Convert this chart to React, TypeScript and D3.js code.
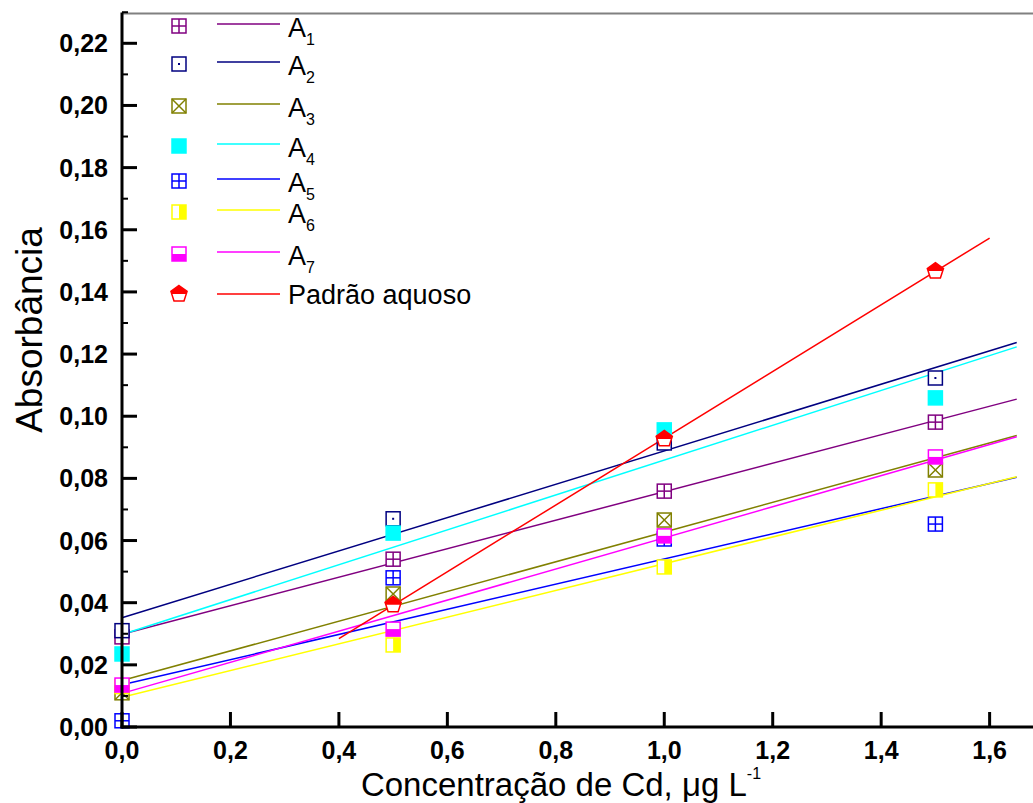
import React from "react";
import * as d3 from "d3";

const concentrations = [0, 0.5, 1.0, 1.5];
const seriesNames = ["A1", "A2", "A3", "A4", "A5", "A6", "A7"];
const A1 = [0.029, 0.054, 0.0759, 0.0981];
const A2 = [0.031, 0.067, 0.0914, 0.1123];
const A3 = [0.011, 0.0428, 0.0666, 0.0827];
const A4 = [0.0235, 0.0624, 0.0956, 0.1059];
const A5 = [0.002, 0.048, 0.0605, 0.0653];
const A6 = [0.013, 0.0264, 0.0515, 0.0763];
const A7 = [0.0135, 0.0315, 0.0615, 0.0869];
const padraoX = [0.5, 1.0, 1.5];
const padrao = [0.0393, 0.0927, 0.1467];
const xTicks = [0, 0.2, 0.4, 0.6, 0.8, 1.0, 1.2, 1.4, 1.6];
const yTicks = [0, 0.02, 0.04, 0.06, 0.08, 0.1, 0.12, 0.14, 0.16, 0.18, 0.2, 0.22];

const colors = ["#800080", "#000080", "#808000", "#00FFFF", "#0000FF", "#FFFF00", "#FF00FF"];
const markerTypes = ["grid", "dot", "cross", "filled", "grid", "halfLeft", "halfBottom"];
const allSeries = [A1, A2, A3, A4, A5, A6, A7];

const W = 1033;
const H = 803;
const x = d3.scaleLinear().domain([0, 1.68]).range([122, 1033]);
const y = d3.scaleLinear().domain([0, 0.22]).range([727, 43.3]);

function fit(xs: number[], ys: number[]) {
  const mx = d3.mean(xs)!;
  const my = d3.mean(ys)!;
  let sxy = 0, sxx = 0;
  xs.forEach((v, i) => { sxy += (v - mx) * (ys[i] - my); sxx += (v - mx) * (v - mx); });
  const b = sxy / sxx;
  return { a: my - b * mx, b };
}

function fmt(v: number, d: number) {
  return v.toFixed(d).replace(".", ",");
}

function Marker({ cx, cy, type, color }: { cx: number; cy: number; type: string; color: string }) {
  const s = 7;
  const sw = 1.5;
  if (type === "pentagon") {
    const r = 8.5;
    const pts = d3.range(5).map((i) => {
      const a = -Math.PI / 2 + (i * 2 * Math.PI) / 5;
      return [cx + r * Math.cos(a), cy + r * Math.sin(a)];
    });
    const p = "M" + pts.map((q) => q.join(",")).join("L") + "Z";
    const id = `pc${Math.round(cx)}_${Math.round(cy)}`;
    return (
      <g>
        <clipPath id={id}>
          <rect x={cx - 10} y={cy - 10} width={20} height={10} />
        </clipPath>
        <path d={p} fill="#fff" stroke="none" />
        <path d={p} fill={color} stroke="none" clipPath={`url(#${id})`} />
        <path d={p} fill="none" stroke={color} strokeWidth={sw} />
      </g>
    );
  }
  return (
    <g>
      <rect x={cx - s} y={cy - s} width={2 * s} height={2 * s} fill={type === "filled" ? color : "#fff"} stroke={color} strokeWidth={sw} />
      {type === "grid" && (
        <g stroke={color} strokeWidth={sw}>
          <line x1={cx} x2={cx} y1={cy - s} y2={cy + s} />
          <line x1={cx - s} x2={cx + s} y1={cy} y2={cy} />
        </g>
      )}
      {type === "cross" && (
        <g stroke={color} strokeWidth={sw}>
          <line x1={cx - s} x2={cx + s} y1={cy - s} y2={cy + s} />
          <line x1={cx - s} x2={cx + s} y1={cy + s} y2={cy - s} />
        </g>
      )}
      {type === "dot" && <rect x={cx - 1} y={cy - 1} width={2} height={2} fill={color} />}
      {type === "halfLeft" && <rect x={cx} y={cy - s} width={s} height={2 * s} fill={color} />}
      {type === "halfBottom" && <rect x={cx - s} y={cy} width={2 * s} height={s} fill={color} />}
    </g>
  );
}

export default function App() {
  const fits = allSeries.map((ys) => fit(concentrations, ys));
  const pf = fit(padraoX, padrao);
  const legendY = [26, 64, 106, 146, 181, 212, 254];
  const font = "'Liberation Sans', Arial, sans-serif";
  return (
    <div style={{ position: "absolute", left: 0, top: 0 }}>
      <svg width={W} height={H} style={{ display: "block", background: "#fff" }}>
        {fits.map((f, i) => (
          <line key={"l" + i} x1={x(0)} x2={x(1.65)} y1={y(f.a)} y2={y(f.a + f.b * 1.65)} stroke={colors[i]} strokeWidth={1.5} />
        ))}
        <line x1={x(0.4)} x2={x(1.6)} y1={y(pf.a + pf.b * 0.4)} y2={y(pf.a + pf.b * 1.6)} stroke="#FF0000" strokeWidth={1.5} />
        {allSeries.map((ys, i) =>
          ys.map((v, j) => (
            <Marker key={`m${i}_${j}`} cx={x(concentrations[j])} cy={y(v)} type={markerTypes[i]} color={colors[i]} />
          ))
        )}
        {padrao.map((v, j) => (
          <Marker key={"p" + j} cx={x(padraoX[j])} cy={y(v)} type="pentagon" color="#FF0000" />
        ))}
        <line x1={122} x2={W} y1={y(0.2296)} y2={y(0.2296)} stroke="#808080" strokeWidth={2} />
        <line x1={122} x2={122} y1={y(0.2296) - 1} y2={728.5} stroke="#000" strokeWidth={3} />
        <line x1={120.5} x2={W} y1={727} y2={727} stroke="#000" strokeWidth={3} />
        {yTicks.map((t) => (
          <g key={"yt" + t}>
            <line x1={122} x2={137} y1={y(t)} y2={y(t)} stroke="#000" strokeWidth={3} />
            <text x={108} y={y(t)} dy="0.36em" textAnchor="end" fontFamily={font} fontWeight="bold" fontSize={25}>
              {fmt(t, 2)}
            </text>
          </g>
        ))}
        {yTicks.map((t) => (
          <line key={"ym" + t} x1={122} x2={128} y1={y(t + 0.01)} y2={y(t + 0.01)} stroke="#000" strokeWidth={2} />
        ))}
        {xTicks.map((t) => (
          <g key={"xt" + t}>
            <line x1={x(t)} x2={x(t)} y1={727} y2={712} stroke="#000" strokeWidth={3} />
            <text x={x(t)} y={759} textAnchor="middle" fontFamily={font} fontWeight="bold" fontSize={25}>
              {fmt(t, 1)}
            </text>
          </g>
        ))}
        <text x={561} y={796} textAnchor="middle" fontFamily={font} fontSize={33}>
          Concentração de Cd, μg L<tspan fontSize={16} dy={-17}>-1</tspan>
        </text>
        <text transform="translate(42,330) rotate(-90)" textAnchor="middle" fontFamily={font} fontSize={37}>
          Absorbância
        </text>
        {seriesNames.map((n, i) => (
          <g key={"lg" + n}>
            <Marker cx={179} cy={legendY[i]} type={markerTypes[i]} color={colors[i]} />
            <line x1={217} x2={280} y1={legendY[i] - 2} y2={legendY[i] - 2} stroke={colors[i]} strokeWidth={1.5} />
            <text x={288} y={legendY[i] + 11} fontFamily={font} fontSize={27}>
              A<tspan fontSize={16} dy={8}>{n.slice(1)}</tspan>
            </text>
          </g>
        ))}
        <Marker cx={179} cy={294} type="pentagon" color="#FF0000" />
        <line x1={217} x2={280} y1={294} y2={294} stroke="#FF0000" strokeWidth={1.5} />
        <text x={288} y={304} fontFamily={font} fontSize={27}>Padrão aquoso</text>
      </svg>
    </div>
  );
}
